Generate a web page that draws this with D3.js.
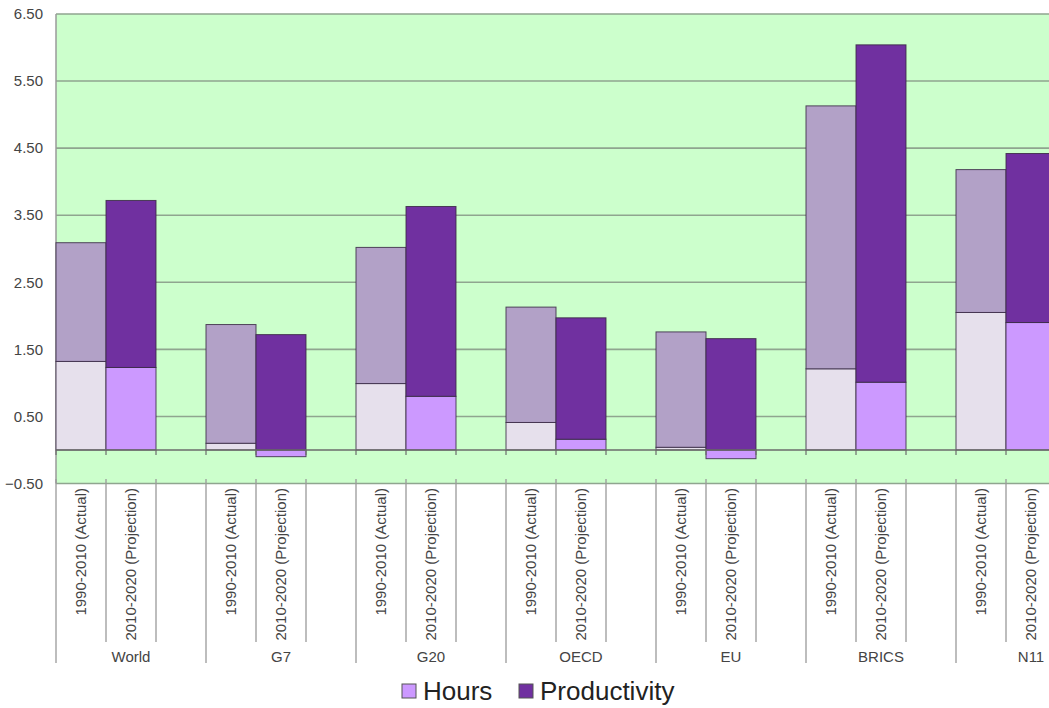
<!DOCTYPE html>
<html>
<head>
<meta charset="utf-8">
<script src="https://cdn.jsdelivr.net/npm/d3@7"></script>
<style>
  html, body { margin: 0; padding: 0; background: #ffffff; }
  svg { display: block; overflow: hidden; font-family: "Liberation Sans", Arial, sans-serif; }
</style>
</head>
<body>
<svg id="chart" width="1049" height="708"></svg>
<script>
// Country groups and the two periods shown for each
const groups = ["World", "G7", "G20", "OECD", "EU", "BRICS", "N11"];
const periods = ["1990-2010 (Actual)", "2010-2020 (Projection)"];

// Growth contributions (% per year)
const hoursActual = [1.32, 0.10, 0.99, 0.41, 0.04, 1.21, 2.05];
const productivityActual = [1.77, 1.77, 2.03, 1.72, 1.72, 3.92, 2.13];
const hoursProjection = [1.23, -0.10, 0.80, 0.16, -0.13, 1.01, 1.90];
const productivityProjection = [2.49, 1.72, 2.83, 1.81, 1.66, 5.03, 2.52];

const yTicks = [-0.5, 0.5, 1.5, 2.5, 3.5, 4.5, 5.5, 6.5];
const seriesNames = ["Hours", "Productivity"];

const svg = d3.select("#chart");
const plotLeft = 56, plotTop = 14, plotBottom = 483.5;
const groupWidth = 150;

const y = d3.scaleLinear().domain([-0.5, 6.5]).range([plotBottom, plotTop]);
const xGroup = d3.scaleBand().domain(groups)
  .range([plotLeft, plotLeft + groupWidth * groups.length]).padding(0);
// third slot in each group is left empty
const xInner = d3.scaleBand().domain([...periods, ""]).range([0, groupWidth]).padding(0);
const plotRight = plotLeft + groupWidth * groups.length;

// fills: [hours, productivity] for actual vs projection
const fills = {
  [periods[0]]: ["#E6E0EC", "#B2A1C7"],
  [periods[1]]: ["#CC99FF", "#7030A0"]
};

// plot background
svg.append("rect")
  .attr("x", plotLeft).attr("y", plotTop)
  .attr("width", plotRight - plotLeft).attr("height", plotBottom - plotTop)
  .attr("fill", "#CCFFCC");

// horizontal gridlines
svg.append("g").selectAll("line").data(yTicks).join("line")
  .attr("x1", plotLeft).attr("x2", plotRight)
  .attr("y1", d => y(d)).attr("y2", d => y(d))
  .attr("stroke", "#8fa58f").attr("stroke-width", 1.6);

// left border
svg.append("line")
  .attr("x1", plotLeft).attr("x2", plotLeft)
  .attr("y1", plotTop).attr("y2", plotBottom)
  .attr("stroke", "#9a9a9a").attr("stroke-width", 1.5);

// y axis labels
svg.append("g").selectAll("text").data(yTicks).join("text")
  .attr("x", 43).attr("y", d => y(d)).attr("dy", "0.35em")
  .attr("text-anchor", "end")
  .attr("font-size", 15).attr("fill", "#444")
  .text(d => d3.format(".2f")(d));

// stacked bars
const rows = [];
groups.forEach((g, i) => {
  rows.push({ group: g, period: periods[0], Hours: hoursActual[i], Productivity: productivityActual[i] });
  rows.push({ group: g, period: periods[1], Hours: hoursProjection[i], Productivity: productivityProjection[i] });
});
const stacked = d3.stack().keys(seriesNames).offset(d3.stackOffsetDiverging)(rows);

const barLayer = svg.append("g");
stacked.forEach((layer, li) => {
  barLayer.append("g").selectAll("rect").data(layer).join("rect")
    .attr("x", d => xGroup(d.data.group) + xInner(d.data.period))
    .attr("width", xInner.bandwidth())
    .attr("y", d => y(Math.max(d[0], d[1])))
    .attr("height", d => Math.abs(y(d[0]) - y(d[1])))
    .attr("fill", d => fills[d.data.period][li])
    .attr("stroke", "#3a2a45").attr("stroke-width", 1)
    .attr("stroke-opacity", 0.85);
});

// zero line with tick marks
svg.append("line")
  .attr("x1", plotLeft).attr("x2", plotRight)
  .attr("y1", y(0)).attr("y2", y(0))
  .attr("stroke", "#6b6b6b").attr("stroke-width", 1.5);
const slotEdges = [];
groups.forEach(g => {
  [...periods, ""].forEach(p => slotEdges.push(xGroup(g) + xInner(p)));
});
svg.append("g").selectAll("line").data(slotEdges).join("line")
  .attr("x1", d => d).attr("x2", d => d)
  .attr("y1", y(0)).attr("y2", y(0) + 5)
  .attr("stroke", "#6b6b6b").attr("stroke-width", 1.2);

// category axis below the plot
const axisTop = 479;
svg.append("g").selectAll("line").data(slotEdges).join("line")
  .attr("x1", d => d).attr("x2", d => d)
  .attr("y1", axisTop)
  .attr("y2", (d, i) => (i % 3 === 0 ? 663 : 642))
  .attr("stroke", "#9a9a9a").attr("stroke-width", 1.3);

// period labels, rotated
const periodLabels = [];
groups.forEach(g => periods.forEach(p => periodLabels.push({ g, p })));
svg.append("g").selectAll("text").data(periodLabels).join("text")
  .attr("transform", d => {
    const cx = xGroup(d.g) + xInner(d.p) + xInner.bandwidth() / 2;
    return `translate(${cx},488) rotate(-90)`;
  })
  .attr("dy", "0.36em")
  .attr("text-anchor", "end")
  .attr("font-size", 15).attr("fill", "#444")
  .text(d => d.p);

// group labels
svg.append("g").selectAll("text").data(groups).join("text")
  .attr("x", d => xGroup(d) + groupWidth / 2)
  .attr("y", 662)
  .attr("text-anchor", "middle")
  .attr("font-size", 15).attr("fill", "#444")
  .text(d => d);

// legend
const legend = svg.append("g");
const legendItems = [
  { name: seriesNames[0], color: fills[periods[1]][0], x: 402 },
  { name: seriesNames[1], color: fills[periods[1]][1], x: 519 }
];
legendItems.forEach(item => {
  legend.append("rect")
    .attr("x", item.x).attr("y", 684).attr("width", 14).attr("height", 14)
    .attr("fill", item.color).attr("stroke", "#555").attr("stroke-width", 1);
  legend.append("text")
    .attr("x", item.x + 21).attr("y", 700)
    .attr("font-size", 26).attr("fill", "#222")
    .text(item.name);
});
</script>
</body>
</html>
